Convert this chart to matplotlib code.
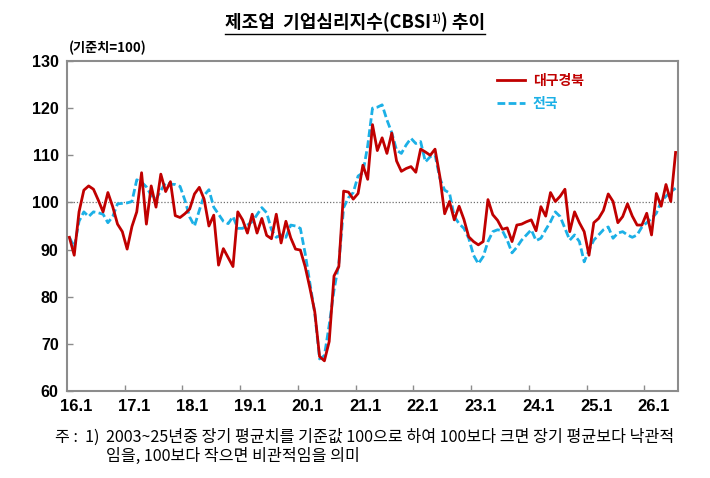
import matplotlib
matplotlib.use('Agg')
import matplotlib.pyplot as plt
from matplotlib.lines import Line2D
import numpy as np

# monthly index, 2016.1 ~ 2026.7
daegu = [92.6, 88.8, 98.0, 102.6, 103.5, 102.8, 100.5, 98.0, 102.1, 99.1, 95.4, 93.8,
         90.1, 94.9, 98.0, 106.3, 95.4, 103.5, 99.0, 106.0, 102.3, 104.4, 97.2, 96.8,
         97.6, 98.6, 101.8, 103.2, 100.7, 95.0, 97.3, 86.7, 90.2, 88.3, 86.4, 98.0,
         96.3, 93.5, 97.5, 93.5, 96.6, 93.0, 92.3, 97.5, 91.4, 96.0, 92.5, 90.1,
         89.9, 86.4, 81.8, 76.8, 67.3, 66.4, 70.5, 84.4, 86.4, 102.4, 102.2, 100.7,
         101.9, 107.9, 104.9, 116.5, 111.0, 113.7, 110.4, 114.7, 108.8, 106.6, 107.2, 107.6,
         106.4, 111.3, 110.7, 110.0, 111.3, 105.5, 97.6, 100.2, 96.3, 99.2, 96.4, 92.7,
         91.7, 91.0, 91.7, 100.6, 97.4, 96.2, 94.3, 94.6, 91.7, 95.2, 95.4, 95.9,
         96.3, 94.0, 99.1, 97.1, 102.1, 100.2, 101.3, 102.8, 93.8, 98.0, 95.7, 93.8,
         88.8, 95.7, 96.6, 98.3, 101.8, 100.2, 95.7, 97.0, 99.7, 97.1, 95.2, 95.2,
         97.7, 93.1, 101.9, 99.2, 103.8, 100.2, 110.6]
national = [92.6, 90.5, 96.0, 98.0, 97.0, 98.0, 97.8, 97.5, 95.7, 97.0, 99.7, 99.8,
            99.9, 100.2, 104.8, 104.3, 103.3, 101.5, 100.7, 102.5, 104.2, 103.9, 103.8, 103.4,
            100.5, 96.9, 95.0, 98.3, 101.5, 102.7, 99.0, 97.5, 96.0, 95.5, 97.0, 94.5,
            94.5, 95.2, 95.9, 97.4, 98.9, 97.8, 94.2, 92.6, 93.1, 92.6, 95.2, 95.0,
            94.5, 89.2, 82.8, 76.5, 66.8, 67.5, 74.0, 81.4, 87.0, 98.9, 101.0, 102.1,
            105.6, 106.3, 112.0, 120.0, 120.2, 120.7, 117.5, 114.8, 111.1, 110.4, 112.2, 113.6,
            112.5, 112.9, 108.6, 109.7, 110.1, 105.1, 102.6, 102.0, 97.0, 95.5, 94.5, 92.4,
            88.8, 87.0, 88.5, 91.7, 93.8, 94.2, 94.0, 92.0, 89.3, 90.5, 92.0, 93.1,
            94.2, 91.9, 92.4, 94.2, 95.9, 98.0, 97.0, 94.5, 92.0, 93.1, 91.7, 87.4,
            89.9, 92.0, 93.1, 94.2, 94.8, 92.4, 93.5, 93.8, 93.1, 92.6, 93.1, 94.8,
            95.7, 96.6, 97.7, 100.2, 101.3, 102.3, 103.0]
year_labels = ['16.1', '17.1', '18.1', '19.1', '20.1', '21.1',
               '22.1', '23.1', '24.1', '25.1', '26.1']
y_ticks = [60, 70, 80, 90, 100, 110, 120, 130]

KR = ['Noto Sans CJK KR', 'DejaVu Sans']
NUM = ['Liberation Sans', 'Noto Sans CJK KR']
RED = '#C00000'
BLUE = '#1CB0E6'
GRAY = '#8C8C8C'

W, H = 710, 478
fig = plt.figure(figsize=(W / 100, H / 100), dpi=100)
ax = fig.add_axes([67 / W, 1 - 391 / H, 611 / W, 330 / H])

x = np.arange(len(daegu))
ax.axhline(100, color='#707070', lw=0.9, ls=(0, (1, 1.5)), zorder=1)
ax.plot(x, national, color=BLUE, lw=2.0, ls=(0, (2.8, 1.2)), label='전국', zorder=2)
ax.plot(x, daegu, color=RED, lw=2.0, label='대구경북', zorder=3)

ax.set_xlim(-0.5, len(daegu) - 0.5)
ax.set_ylim(60, 130)
ax.set_yticks(y_ticks)
ax.set_yticklabels([str(v) for v in y_ticks], family=NUM, fontsize=11.5, fontweight='bold')
ax.set_xticks(np.arange(len(year_labels)) * 12 + 1.5)
ax.set_xticklabels(year_labels, family=NUM, fontsize=12, fontweight='bold')
ax.set_xticks(np.arange(1, len(year_labels)) * 12 - 0.5, minor=True)
ax.tick_params(axis='x', which='major', length=0, pad=6)
ax.tick_params(axis='x', which='minor', direction='in', length=4, color=GRAY, width=1)
ax.tick_params(axis='y', direction='in', length=4, color=GRAY, width=1, pad=6)
for s in ax.spines.values():
    s.set_color(GRAY)
    s.set_linewidth(1.5)

# legend in the order of the original
h, l = ax.get_legend_handles_labels()
leg = ax.legend(h[::-1], l[::-1], loc='upper left', bbox_to_anchor=(0.683, 1.0),
                frameon=False, handlelength=2.0, handletextpad=0.6, labelspacing=0.65,
                prop={'family': KR, 'size': 10, 'weight': 'bold'})
for txt, c in zip(leg.get_texts(), [RED, BLUE]):
    txt.set_color(c)

# title with superscript, underlined
fig.canvas.draw()
r = fig.canvas.get_renderer()
parts = [('제조업  기업심리지수(CBSI', 13, 0), ('1)', 7.5, 6), (') 추이', 13, 0)]
objs = []
for s, size, dy in parts:
    t = fig.text(0, 0, s, family=KR, fontsize=size, fontweight='bold', va='baseline')
    objs.append(t)
widths = [t.get_window_extent(r).width for t in objs]
total = sum(widths)
x0 = W / 2 - total / 2
base = H - 28
cx = x0
for t, (s, size, dy), w in zip(objs, parts, widths):
    t.set_position((cx / W, (base + dy) / H))
    cx += w
fig.add_artist(Line2D([x0 / W, (x0 + total) / W], [1 - 34 / H, 1 - 34 / H],
                      transform=fig.transFigure, color='black', lw=1))

fig.text(69 / W, 1 - 48 / H, '(기준치=100)', family=KR, fontsize=9.5,
         fontweight='bold', va='center')

# footnote, second line aligned under "2003"
note_size = 11.6
fig.text(55 / W, 1 - 437 / H, '주 :  1)', family=KR, fontsize=note_size, va='center')
fig.text(106 / W, 1 - 437 / H,
         '2003~25년중 장기 평균치를 기준값 100으로 하여 100보다 크면 장기 평균보다 낙관적',
         family=KR, fontsize=note_size, va='center')
fig.text(106 / W, 1 - 456 / H, '임을, 100보다 작으면 비관적임을 의미',
         family=KR, fontsize=note_size, va='center')

fig.savefig('out.png', dpi=100)
